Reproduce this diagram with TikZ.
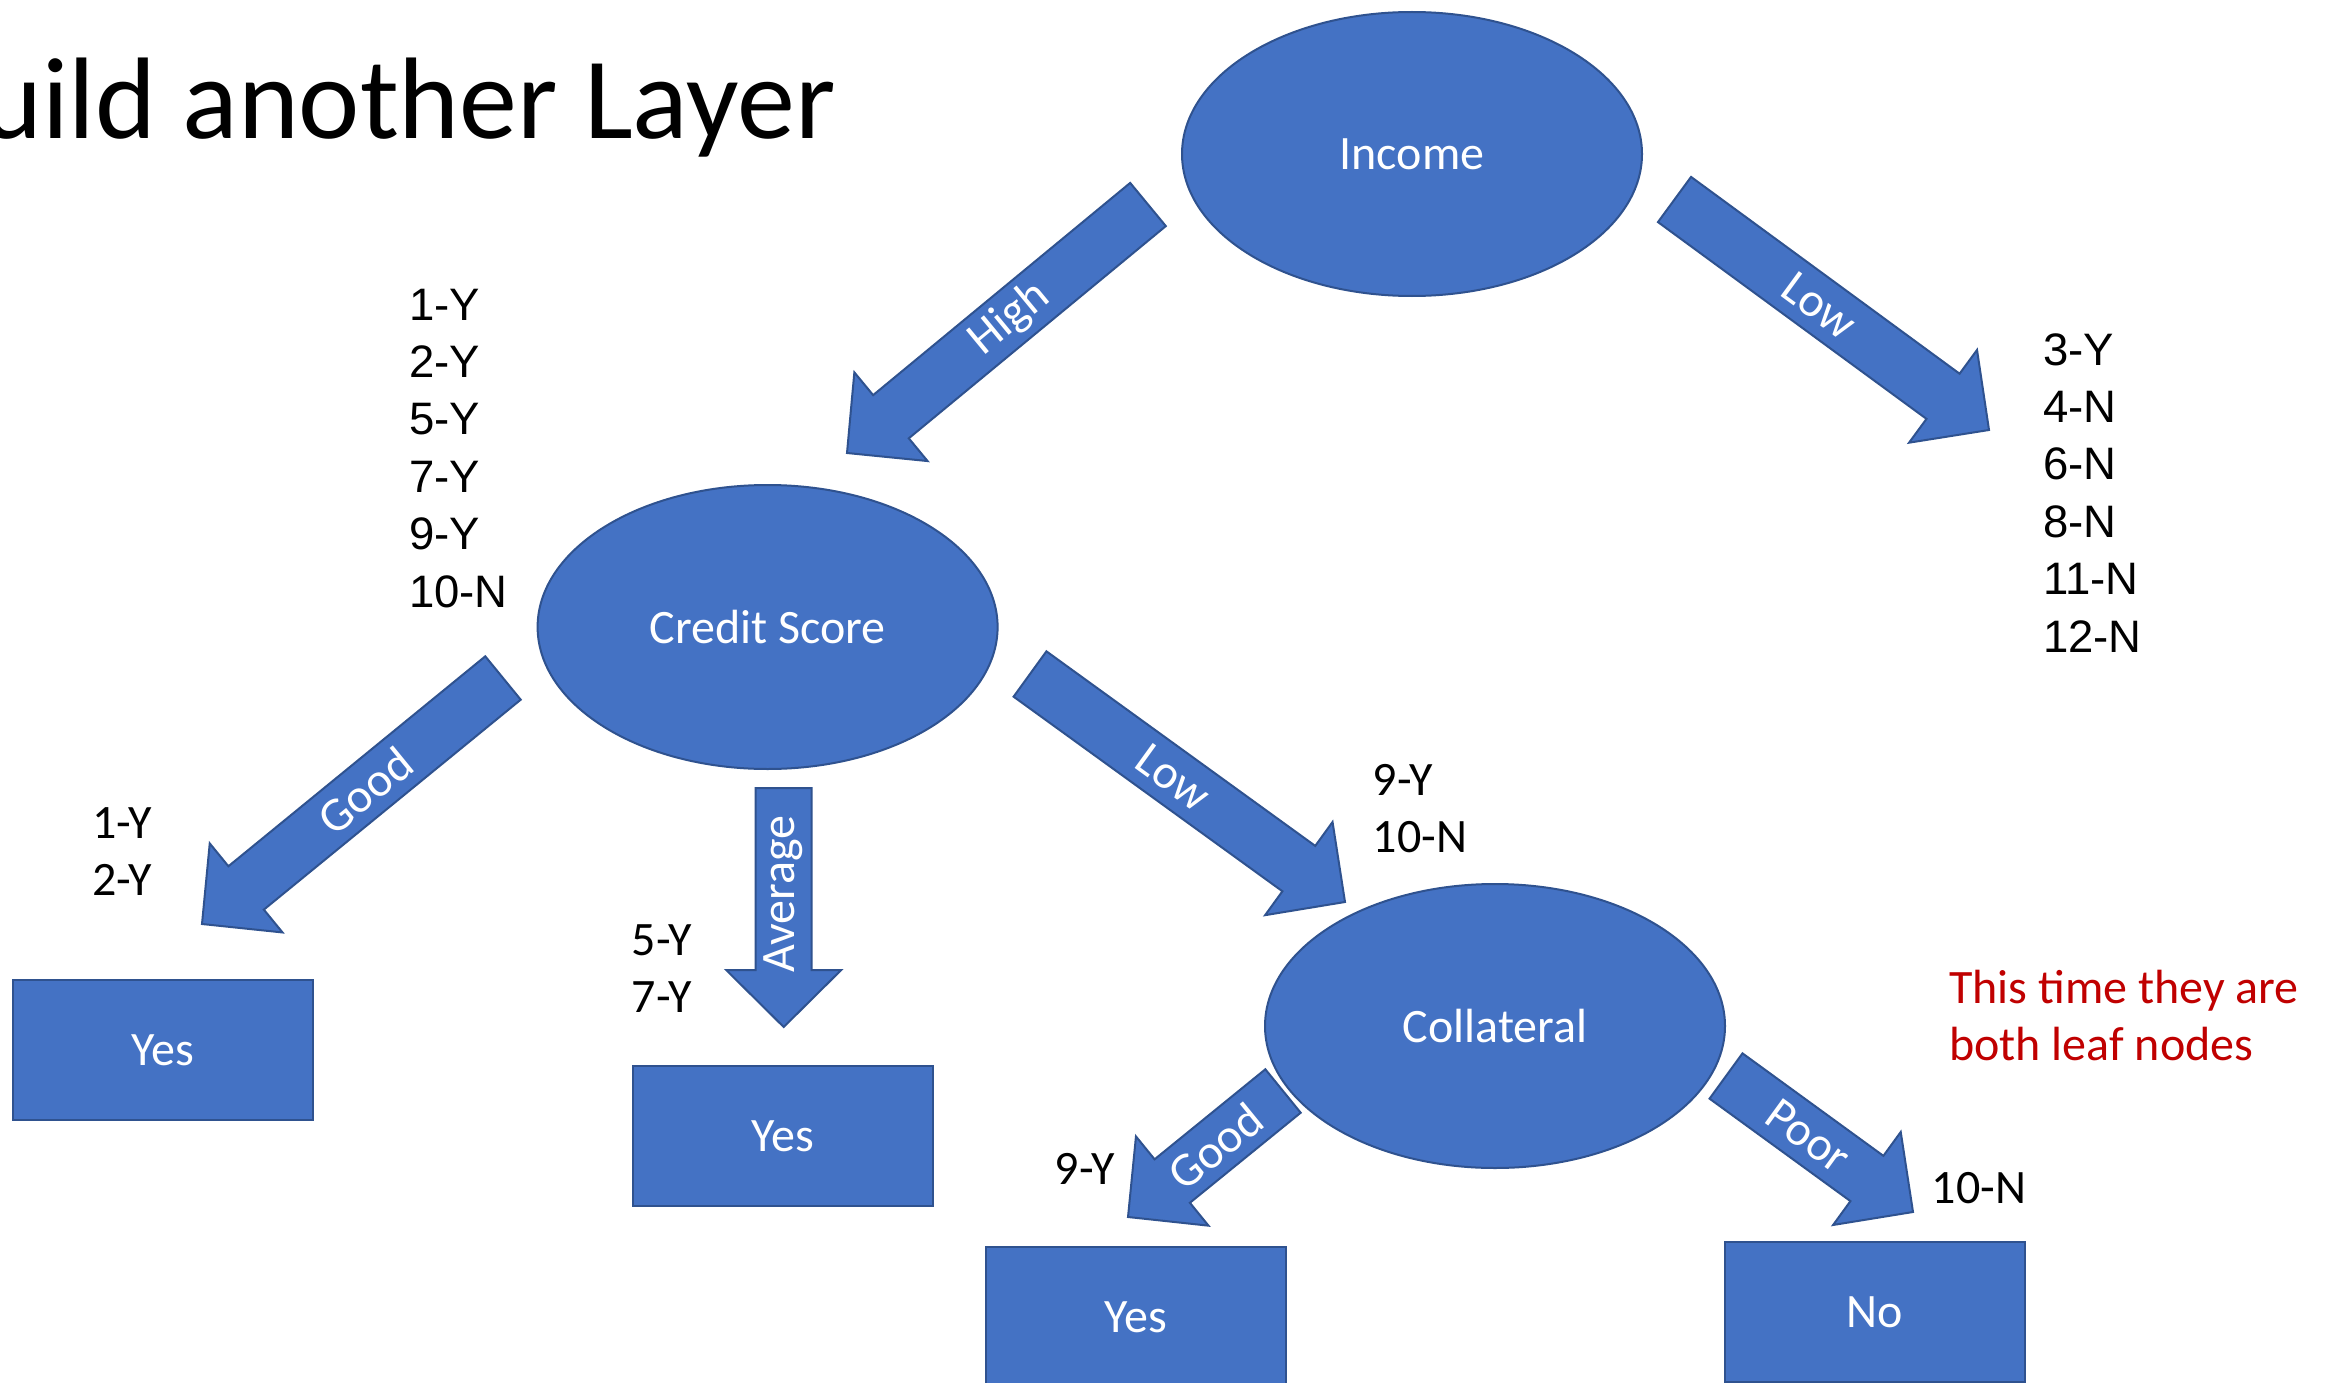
\documentclass[tikz,border=0pt]{standalone}
\usepackage{fontspec}
\setmainfont{Carlito}
\newfontfamily\arialf{Liberation Sans}
\usetikzlibrary{calc,shapes.geometric}
\definecolor{pblue}{HTML}{4472C4}
\definecolor{pborder}{HTML}{2F528F}
\definecolor{pred}{HTML}{C00000}
\newcommand\labfont{\fontsize{48}{57}\selectfont}
\newcommand\blockarrow[3]{%
  \coordinate (#1-n) at ($(#3)!57pt!(#2)$);
  \draw[barrow] ($(#2)!28pt!90:(#3)$) -- ($(#1-n)!28pt!90:(#3)$)
    -- ($(#1-n)!57.5pt!90:(#3)$) -- (#3)
    -- ($(#1-n)!57.5pt!-90:(#3)$) -- ($(#1-n)!28pt!-90:(#3)$)
    -- ($(#2)!28pt!-90:(#3)$) -- cycle;
}
\begin{document}
\begin{tikzpicture}[x=1pt,y=-1pt,
  dnode/.style={ellipse, draw=pborder, fill=pblue, line width=2pt,
    minimum width=460pt, minimum height=284pt, inner sep=0pt,
    text=white, font=\labfont},
  leafbox/.style={rectangle, draw=pborder, fill=pblue, line width=2pt,
    minimum width=300pt, minimum height=140pt, inner sep=0pt,
    text=white, font=\labfont},
  barrow/.style={draw=pborder, fill=pblue, line width=2pt, line join=miter},
  alabel/.style={text=white, font=\labfont, inner sep=0pt},
  datac/.style={anchor=base west, inner sep=0pt, font=\labfont},
  dataa/.style={anchor=base west, inner sep=0pt, font=\arialf\fontsize{45.5}{57}\selectfont},
  note/.style={anchor=base west, inner sep=0pt, font=\labfont, text=pred}]
\useasboundingbox (0,0) rectangle (2328,1383);
\clip (0,0) rectangle (2328,1383);
\fill[white] (0,0) rectangle (2328,1383);

% title
\node[anchor=base west, inner sep=0pt, font=\fontsize{116}{132}\selectfont] (title) at (-82,139) {Build another Layer};

% decision nodes
\node[dnode] (income) at (1412,154) {Income};
\node[dnode] (credit) at (767.6,627) {Credit Score};
\node[dnode] (collat) at (1495,1026) {Collateral};

% leaf nodes
\node[leafbox] (yes1) at (163,1050) {Yes};
\node[leafbox] (yes2) at (782.5,1136) {Yes};
\node[leafbox] (yes3) at (1135.5,1317) {Yes};
\node[leafbox] (no1) at (1875,1312) {No};

% arrow end points
\coordinate (hiT) at (1148,204.5);   \coordinate (hiP) at (847,453);
\coordinate (ilT) at (1674.5,199.5); \coordinate (ilP) at (1989,430);
\coordinate (cgT) at (503,678);      \coordinate (cgP) at (202,924);
\coordinate (clT) at (1030,674);     \coordinate (clP) at (1345,902);
\coordinate (caT) at (783.7,788);    \coordinate (caP) at (783.7,1027);
\coordinate (ogT) at (1283,1091);    \coordinate (ogP) at (1128,1217);
\coordinate (opT) at (1726,1076);    \coordinate (opP) at (1913,1212);

\blockarrow{hi}{hiT}{hiP}
\blockarrow{il}{ilT}{ilP}
\blockarrow{cg}{cgT}{cgP}
\blockarrow{cl}{clT}{clP}
\blockarrow{ca}{caT}{caP}
\blockarrow{og}{ogT}{ogP}
\blockarrow{op}{opT}{opP}

% arrow labels
\path (hiT) -- (hiP) node[alabel, pos=0.46, sloped] (lhi) {High};
\path (ilT) -- (ilP) node[alabel, pos=0.46, sloped] (lil) {Low};
\path (cgT) -- (cgP) node[alabel, pos=0.458, sloped] (lcg) {Good};
\path (clT) -- (clP) node[alabel, pos=0.455, sloped] (lcl) {Low};
\node[alabel, rotate=90] (lca) at ($(caT)!0.443!(caP)$) {Average};
\path (ogT) -- (ogP) node[alabel, pos=0.436, sloped] (log) {Good};
\path (opT) -- (opP) node[alabel, pos=0.44, sloped] (lop) {Poor};

% data lists
\foreach \t [count=\i from 0] in {1-Y,2-Y,5-Y,7-Y,9-Y,10-N}
  \node[dataa] (csl\i) at (409,{320+57.4*\i}) {\t};
\foreach \t [count=\i from 0] in {3-Y,4-N,6-N,8-N,11-N,12-N}
  \node[dataa] (inl\i) at (2043,{365+57.4*\i}) {\t};
\node[datac] (gl0) at (92,838) {1-Y};
\node[datac] (gl1) at (92,895) {2-Y};
\node[datac] (al0) at (631.5,955) {5-Y};
\node[datac] (al1) at (631.5,1012) {7-Y};
\node[datac] (ll0) at (1372.5,795) {9-Y};
\node[datac] (ll1) at (1372.5,852) {10-N};
\node[datac] (ogl) at (1054.5,1184) {9-Y};
\node[datac] (opl) at (1931.5,1203) {10-N};

% note
\node[note] (note1) at (1949,1003) {This time they are};
\node[note] (note2) at (1949,1060) {both leaf nodes};
\end{tikzpicture}
\end{document}
